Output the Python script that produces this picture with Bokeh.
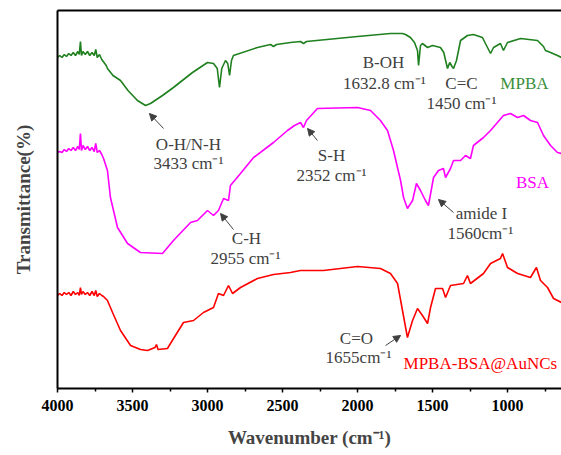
from bokeh.plotting import figure
from bokeh.models import Range1d, LinearAxis, FixedTicker, Arrow, NormalHead, ColumnDataSource
from bokeh.core.properties import value
from bokeh.embed import file_html
from bokeh.resources import INLINE

# ---- data (wavenumber cm-1, transmittance in arbitrary offset units) ----
mpba_wn = [4000, 3985, 3970, 3955, 3940, 3925, 3910, 3895, 3880, 3865, 3855, 3847, 3840, 3830,
           3815, 3800, 3785, 3770, 3755, 3745, 3735, 3720, 3705, 3690, 3675, 3667, 3630, 3580,
           3530, 3467, 3413, 3380, 3300, 3227, 3100, 3000, 2960, 2935, 2920, 2905, 2880, 2865,
           2853, 2840, 2827, 2667, 2580, 2560, 2540, 2447, 2380, 2360, 2340, 2000, 1780, 1700,
           1680, 1647, 1620, 1600, 1593, 1580, 1567, 1533, 1500, 1447, 1425, 1400, 1385, 1370,
           1360, 1340, 1313, 1267, 1227, 1167, 1147, 1113, 1093, 1047, 1027, 1000, 913, 800,
           760, 747, 713, 667, 640]
mpba_t = [331, 333, 331, 334, 332, 335, 333, 336, 333, 337, 334, 347, 333, 337,
          334, 337, 333, 336, 333, 339, 331, 334, 329, 326, 323, 320, 313, 308,
          298, 288, 283, 285, 293, 301, 316, 326, 325, 320, 301, 320, 328, 325,
          313, 328, 333, 341, 344, 342, 344, 346, 347, 345, 347, 352, 355, 355,
          354, 351, 346, 338, 323, 343, 345, 341, 343, 341, 336, 320, 326, 322,
          320, 328, 348, 353, 354, 351, 345, 335, 341, 345, 338, 346, 350, 348,
          342, 338, 336, 333, 331]

bsa_wn = [4000, 3985, 3970, 3955, 3940, 3925, 3910, 3895, 3880, 3865, 3855, 3847, 3840, 3830,
          3815, 3800, 3785, 3770, 3755, 3745, 3735, 3720, 3705, 3693, 3667, 3647, 3600,
          3533, 3447, 3300, 3227, 3113, 3067, 3000, 2960, 2927, 2893, 2860, 2847, 2780, 2693,
          2560, 2467, 2420, 2380, 2360, 2340, 2267, 2000, 1913, 1847, 1800, 1760, 1713, 1693,
          1667, 1633, 1607, 1580, 1547, 1527, 1493, 1460, 1427, 1413, 1380, 1360, 1313, 1280,
          1247, 1227, 1160, 1113, 1027, 980, 933, 893, 847, 800, 760, 713, 667, 640]
bsa_t = [236, 237, 236, 239, 237, 240, 238, 241, 238, 242, 239, 255, 238, 243,
         239, 242, 238, 241, 237, 245, 236, 238, 234, 230, 218, 191, 161,
         145, 136, 135, 148, 166, 168, 178, 173, 178, 190, 188, 203, 215, 231,
         246, 258, 263, 266, 261, 268, 280, 281, 278, 268, 258, 238, 208, 191,
         180, 188, 205, 198, 188, 183, 211, 218, 220, 211, 220, 228, 228, 233,
         230, 243, 251, 258, 273, 275, 271, 273, 268, 266, 253, 243, 236, 235]

aunc_wn = [4000, 3985, 3970, 3955, 3940, 3925, 3910, 3895, 3880, 3865, 3855, 3847, 3840, 3830,
           3815, 3800, 3785, 3770, 3755, 3745, 3735, 3720, 3705, 3693, 3667, 3633, 3580, 3513,
           3447, 3400, 3350, 3340, 3330, 3267, 3247, 3160, 3093, 3027, 2960, 2927, 2893, 2860,
           2833, 2780, 2667, 2560, 2447, 2380, 2227, 2000, 1847, 1780, 1733, 1700, 1667, 1633,
           1600, 1567, 1533, 1513, 1480, 1433, 1413, 1380, 1293, 1267, 1247, 1160, 1113, 1047,
           1033, 1000, 933, 847, 807, 780, 733, 693, 640]
aunc_t = [93, 95, 93, 96, 94, 96, 93, 97, 94, 96, 93, 101, 94, 97,
          94, 96, 93, 97, 93, 98, 92, 95, 93, 92, 88, 76, 58, 43,
          39, 38, 41, 44, 39, 40, 45, 66, 68, 76, 81, 95, 93, 103,
          95, 101, 110, 114, 116, 118, 118, 122, 120, 115, 105, 78, 51, 68,
          80, 73, 65, 81, 100, 100, 91, 103, 105, 113, 105, 115, 125, 130,
          135, 121, 115, 111, 121, 108, 101, 90, 86]

x_ticks = [4000, 3500, 3000, 2500, 2000, 1500, 1000]
x_minor = [3750, 3250, 2750, 2250, 1750, 1250, 750]

# annotations
ann_text = ["O-H/N-H", "3433 cm⁻¹", "C-H", "2955 cm⁻¹", "S-H", "2352 cm⁻¹",
            "B-OH", "1632.8 cm⁻¹", "C=C", "1450 cm⁻¹", "amide I", "1560cm⁻¹",
            "C=O", "1655cm⁻¹"]
ann_x = [3127, 3127, 2740, 2747, 2173, 2173, 1827, 1820, 1307, 1307, 1173, 1180, 2007, 1993]
ann_y = [244, 225, 150, 130, 233, 213, 326, 305, 305, 285, 175, 155, 50, 31]

arrow_x0 = [3293, 2827, 2267, 1360, 1813]
arrow_y0 = [260, 159, 248, 176, 43]
arrow_x1 = [3387, 2913, 2333, 1460, 1713]
arrow_y1 = [275, 175, 260, 189, 53]

GREEN = "#1f801f"
MAGENTA = "#ff00ff"
RED = "#ff0000"
GRAY = "#404040"
FONT = "Liberation Serif"

p = figure(width=561, height=455, output_backend="svg", toolbar_location=None,
           x_range=Range1d(4000, 640), y_range=Range1d(0, 378),
           min_border_left=57, min_border_right=0, min_border_top=10, min_border_bottom=67)
p.outline_line_color = None
p.grid.visible = False
p.background_fill_color = "white"
p.border_fill_color = "white"

p.line(mpba_wn, mpba_t, line_color=GREEN, line_width=1.6)
p.line(bsa_wn, bsa_t, line_color=MAGENTA, line_width=1.6)
p.line(aunc_wn, aunc_t, line_color=RED, line_width=1.6)

# axes
xa = p.xaxis[0]
xa.ticker = FixedTicker(ticks=x_ticks, minor_ticks=x_minor)
xa.axis_line_width = 2
xa.major_tick_in = 0
xa.major_tick_out = 4
xa.minor_tick_in = 0
xa.minor_tick_out = 3
xa.major_tick_line_width = 1.5
xa.minor_tick_line_width = 1.5
xa.major_label_text_font = FONT
xa.major_label_text_font_style = "bold"
xa.major_label_text_font_size = "16px"
xa.major_label_text_color = "black"
xa.major_label_standoff = 7
xa.axis_label = "Wavenumber (cm⁻¹)"
xa.axis_label_text_font = FONT
xa.axis_label_text_font_style = "bold"
xa.axis_label_text_font_size = "19px"
xa.axis_label_standoff = 13

ya = p.yaxis[0]
ya.ticker = FixedTicker(ticks=[])
ya.axis_line_width = 2
ya.major_tick_line_color = None
ya.minor_tick_line_color = None
ya.major_label_text_font_size = "0px"
ya.axis_label = "Transmittance(%)"
ya.axis_label_text_font = FONT
ya.axis_label_text_font_style = "bold"
ya.axis_label_text_font_size = "19px"
ya.axis_label_standoff = 24

top = LinearAxis(ticker=FixedTicker(ticks=[]), axis_line_width=2,
                 major_tick_line_color=None, minor_tick_line_color=None,
                 major_label_text_font_size="0px")
p.add_layout(top, "above")

# annotations
src = ColumnDataSource(dict(x=ann_x, y=ann_y, text=ann_text))
p.text(x="x", y="y", text="text", source=src, text_font=value(FONT), text_font_size="17px",
       text_color=GRAY, text_align="center", text_baseline="middle")

p.text(x=[887], y=[305], text=["MPBA"], text_font=value(FONT), text_font_size="17px",
       text_color="#3a8f3a", text_align="center", text_baseline="middle")
p.text(x=[833], y=[206], text=["BSA"], text_font=value(FONT), text_font_size="17px",
       text_color=MAGENTA, text_align="center", text_baseline="middle")
p.text(x=[1693], y=[25], text=["MPBA-BSA@AuNCs"], text_font=value(FONT), text_font_size="17px",
       text_color=RED, text_align="left", text_baseline="middle")

asrc = ColumnDataSource(dict(x0=arrow_x0, y0=arrow_y0, x1=arrow_x1, y1=arrow_y1))
p.add_layout(Arrow(end=NormalHead(size=7, fill_color=GRAY, line_color=GRAY),
                   x_start="x0", y_start="y0", x_end="x1", y_end="y1", source=asrc,
                   line_color=GRAY, line_width=1))

open("out.html", "w").write(file_html(p, INLINE))
